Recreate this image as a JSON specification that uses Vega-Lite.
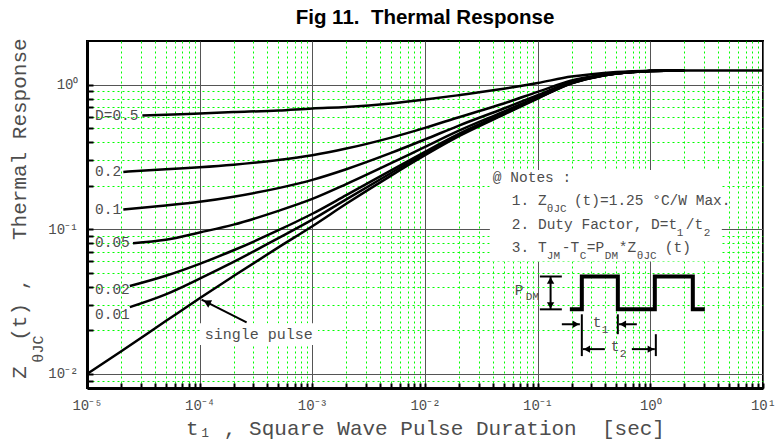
{
  "$schema": "https://vega.github.io/schema/vega-lite/v6.json",
  "width": 676,
  "height": 347,
  "autosize": "none",
  "padding": {"left": 87, "top": 41, "right": 14, "bottom": 53},
  "background": "white",
  "title": {"text": "Fig 11.\u00a0 Thermal Response", "font": "Liberation Sans", "fontSize": 20.5, "fontWeight": "bold", "color": "#000000", "offset": 9, "anchor": "middle"},
  "config": {
    "view": {"stroke": "#000000", "strokeWidth": 2},
    "text": {"font": "Liberation Mono", "color": "#4d4d4d"}
  },
  "datasets": {
    "curves": [
      {"D": "single", "t": 0.00001, "z": 0.0100}, {"D": "single", "t": 0.00002, "z": 0.0143}, {"D": "single", "t": 0.00005, "z": 0.0232}, {"D": "single", "t": 0.0001, "z": 0.0334}, {"D": "single", "t": 0.0002, "z": 0.0475}, {"D": "single", "t": 0.0005, "z": 0.0750}, {"D": "single", "t": 0.001, "z": 0.105}, {"D": "single", "t": 0.002, "z": 0.150}, {"D": "single", "t": 0.005, "z": 0.235}, {"D": "single", "t": 0.01, "z": 0.325}, {"D": "single", "t": 0.02, "z": 0.44}, {"D": "single", "t": 0.05, "z": 0.62}, {"D": "single", "t": 0.1, "z": 0.80}, {"D": "single", "t": 0.2, "z": 1.02}, {"D": "single", "t": 0.3, "z": 1.11}, {"D": "single", "t": 0.5, "z": 1.19}, {"D": "single", "t": 0.7, "z": 1.22}, {"D": "single", "t": 1, "z": 1.24}, {"D": "single", "t": 2, "z": 1.25}, {"D": "single", "t": 10, "z": 1.25},
      {"D": "0.01", "t": 0.000024, "z": 0.029}, {"D": "0.01", "t": 0.00005, "z": 0.0355}, {"D": "0.01", "t": 0.0001, "z": 0.0456}, {"D": "0.01", "t": 0.0002, "z": 0.0595}, {"D": "0.01", "t": 0.0005, "z": 0.0868}, {"D": "0.01", "t": 0.001, "z": 0.1165}, {"D": "0.01", "t": 0.002, "z": 0.161}, {"D": "0.01", "t": 0.005, "z": 0.245}, {"D": "0.01", "t": 0.01, "z": 0.334}, {"D": "0.01", "t": 0.02, "z": 0.448}, {"D": "0.01", "t": 0.05, "z": 0.626}, {"D": "0.01", "t": 0.1, "z": 0.805}, {"D": "0.01", "t": 0.2, "z": 1.022}, {"D": "0.01", "t": 0.3, "z": 1.111}, {"D": "0.01", "t": 0.5, "z": 1.19}, {"D": "0.01", "t": 0.7, "z": 1.22}, {"D": "0.01", "t": 1, "z": 1.24}, {"D": "0.01", "t": 2, "z": 1.25},
      {"D": "0.02", "t": 0.000024, "z": 0.0405}, {"D": "0.02", "t": 0.00005, "z": 0.0477}, {"D": "0.02", "t": 0.0001, "z": 0.0577}, {"D": "0.02", "t": 0.0002, "z": 0.0716}, {"D": "0.02", "t": 0.0005, "z": 0.0985}, {"D": "0.02", "t": 0.001, "z": 0.128}, {"D": "0.02", "t": 0.002, "z": 0.172}, {"D": "0.02", "t": 0.005, "z": 0.255}, {"D": "0.02", "t": 0.01, "z": 0.343}, {"D": "0.02", "t": 0.02, "z": 0.456}, {"D": "0.02", "t": 0.05, "z": 0.633}, {"D": "0.02", "t": 0.1, "z": 0.809}, {"D": "0.02", "t": 0.2, "z": 1.025}, {"D": "0.02", "t": 0.3, "z": 1.113}, {"D": "0.02", "t": 0.5, "z": 1.191}, {"D": "0.02", "t": 0.7, "z": 1.22}, {"D": "0.02", "t": 1, "z": 1.24}, {"D": "0.02", "t": 2, "z": 1.25},
      {"D": "0.05", "t": 0.0000256, "z": 0.080}, {"D": "0.05", "t": 0.00005, "z": 0.0845}, {"D": "0.05", "t": 0.0001, "z": 0.095}, {"D": "0.05", "t": 0.0002, "z": 0.1076}, {"D": "0.05", "t": 0.0005, "z": 0.134}, {"D": "0.05", "t": 0.001, "z": 0.162}, {"D": "0.05", "t": 0.002, "z": 0.205}, {"D": "0.05", "t": 0.005, "z": 0.286}, {"D": "0.05", "t": 0.01, "z": 0.371}, {"D": "0.05", "t": 0.02, "z": 0.48}, {"D": "0.05", "t": 0.05, "z": 0.651}, {"D": "0.05", "t": 0.1, "z": 0.823}, {"D": "0.05", "t": 0.2, "z": 1.032}, {"D": "0.05", "t": 0.3, "z": 1.117}, {"D": "0.05", "t": 0.5, "z": 1.193}, {"D": "0.05", "t": 0.7, "z": 1.22}, {"D": "0.05", "t": 1, "z": 1.24}, {"D": "0.05", "t": 2, "z": 1.25},
      {"D": "0.1", "t": 0.000021, "z": 0.137}, {"D": "0.1", "t": 0.00005, "z": 0.146}, {"D": "0.1", "t": 0.0001, "z": 0.155}, {"D": "0.1", "t": 0.0002, "z": 0.168}, {"D": "0.1", "t": 0.0005, "z": 0.1925}, {"D": "0.1", "t": 0.001, "z": 0.2195}, {"D": "0.1", "t": 0.002, "z": 0.26}, {"D": "0.1", "t": 0.005, "z": 0.337}, {"D": "0.1", "t": 0.01, "z": 0.4175}, {"D": "0.1", "t": 0.02, "z": 0.521}, {"D": "0.1", "t": 0.05, "z": 0.683}, {"D": "0.1", "t": 0.1, "z": 0.845}, {"D": "0.1", "t": 0.2, "z": 1.043}, {"D": "0.1", "t": 0.3, "z": 1.124}, {"D": "0.1", "t": 0.5, "z": 1.196}, {"D": "0.1", "t": 0.7, "z": 1.223}, {"D": "0.1", "t": 1, "z": 1.241}, {"D": "0.1", "t": 2, "z": 1.25},
      {"D": "0.2", "t": 0.000021, "z": 0.249}, {"D": "0.2", "t": 0.00005, "z": 0.26}, {"D": "0.2", "t": 0.0001, "z": 0.268}, {"D": "0.2", "t": 0.0002, "z": 0.279}, {"D": "0.2", "t": 0.0005, "z": 0.301}, {"D": "0.2", "t": 0.001, "z": 0.325}, {"D": "0.2", "t": 0.002, "z": 0.361}, {"D": "0.2", "t": 0.005, "z": 0.43}, {"D": "0.2", "t": 0.01, "z": 0.502}, {"D": "0.2", "t": 0.02, "z": 0.595}, {"D": "0.2", "t": 0.05, "z": 0.74}, {"D": "0.2", "t": 0.1, "z": 0.89}, {"D": "0.2", "t": 0.2, "z": 1.066}, {"D": "0.2", "t": 0.3, "z": 1.138}, {"D": "0.2", "t": 0.5, "z": 1.202}, {"D": "0.2", "t": 0.7, "z": 1.226}, {"D": "0.2", "t": 1, "z": 1.242}, {"D": "0.2", "t": 2, "z": 1.25},
      {"D": "0.5", "t": 0.000031, "z": 0.612}, {"D": "0.5", "t": 0.00005, "z": 0.618}, {"D": "0.5", "t": 0.0001, "z": 0.632}, {"D": "0.5", "t": 0.0002, "z": 0.645}, {"D": "0.5", "t": 0.0005, "z": 0.662}, {"D": "0.5", "t": 0.001, "z": 0.684}, {"D": "0.5", "t": 0.002, "z": 0.70}, {"D": "0.5", "t": 0.005, "z": 0.74}, {"D": "0.5", "t": 0.01, "z": 0.787}, {"D": "0.5", "t": 0.02, "z": 0.845}, {"D": "0.5", "t": 0.05, "z": 0.935}, {"D": "0.5", "t": 0.1, "z": 1.025}, {"D": "0.5", "t": 0.2, "z": 1.135}, {"D": "0.5", "t": 0.3, "z": 1.18}, {"D": "0.5", "t": 0.5, "z": 1.22}, {"D": "0.5", "t": 0.7, "z": 1.235}, {"D": "0.5", "t": 1, "z": 1.245}, {"D": "0.5", "t": 2, "z": 1.25}
    ],
    "dlabels": [
      {"t": 0.00001178, "z": 0.61, "txt": "D=0.5"},
      {"t": 0.00001178, "z": 0.249, "txt": "0.2"},
      {"t": 0.00001178, "z": 0.136, "txt": "0.1"},
      {"t": 0.00001178, "z": 0.080, "txt": "0.05"},
      {"t": 0.00001178, "z": 0.0378, "txt": "0.02"},
      {"t": 0.00001178, "z": 0.0256, "txt": "0.01"}
    ],
    "boxes": [
      {"t": 0.03765, "t2": 4.309, "z": 0.0598, "z2": 0.2564},
      {"t": 0.0001006, "t2": 0.001121, "z": 0.01583, "z2": 0.02241}
    ],
    "segments": [
      {"t": 0.000261, "t2": 0.000104, "z": 0.0227, "z2": 0.0327},
      {"t": 0.1302, "t2": 0.1302, "z": 0.02797, "z2": 0.04716},
      {"t": 0.1046, "t2": 0.1639, "z": 0.04716, "z2": 0.04716},
      {"t": 0.1046, "t2": 0.1639, "z": 0.02797, "z2": 0.02797},
      {"t": 0.1639, "t2": 0.2368, "z": 0.02206, "z2": 0.02206},
      {"t": 0.7589, "t2": 0.5254, "z": 0.02206, "z2": 0.02206},
      {"t": 0.2466, "t2": 0.2466, "z": 0.02585, "z2": 0.01329},
      {"t": 0.5148, "t2": 0.5148, "z": 0.02585, "z2": 0.01883},
      {"t": 0.3947, "t2": 0.2519, "z": 0.01485, "z2": 0.01485},
      {"t": 0.6852, "t2": 1.096, "z": 0.01485, "z2": 0.01485},
      {"t": 1.119, "t2": 1.119, "z": 0.01883, "z2": 0.01329}
    ],
    "heads": [
      {"t": 0.1302, "z": 0.04426, "dir": "up"},
      {"t": 0.1302, "z": 0.02979, "dir": "down"},
      {"t": 0.2183, "z": 0.02206, "dir": "right"},
      {"t": 0.5702, "z": 0.02206, "dir": "left"},
      {"t": 0.2733, "z": 0.01485, "dir": "left"},
      {"t": 1.010, "z": 0.01485, "dir": "right"}
    ],
    "diaghead": [{"t": 0.000116, "z": 0.0313}],
    "wave": [
      {"i": 0, "t": 0.1931, "z": 0.02797}, {"i": 1, "t": 0.2466, "z": 0.02797}, {"i": 2, "t": 0.2466, "z": 0.04716}, {"i": 3, "t": 0.5148, "z": 0.04716}, {"i": 4, "t": 0.5148, "z": 0.02797}, {"i": 5, "t": 1.096, "z": 0.02797}, {"i": 6, "t": 1.096, "z": 0.04716}, {"i": 7, "t": 2.383, "z": 0.04716}, {"i": 8, "t": 2.383, "z": 0.02797}, {"i": 9, "t": 3.045, "z": 0.02797}
    ],
    "maintext": [
      {"t": 0.04003, "z": 0.2249, "txt": "@ Notes :"},
      {"t": 0.0590, "z": 0.1578, "txt": "1. Z"},
      {"t": 0.2096, "z": 0.1578, "txt": "(t)=1.25 °C/W Max."},
      {"t": 0.0590, "z": 0.1074, "txt": "2. Duty Factor, D=t"},
      {"t": 2.065, "z": 0.1074, "txt": "/t"},
      {"t": 0.0590, "z": 0.0743, "txt": "3. T"},
      {"t": 0.1639, "z": 0.0743, "txt": "-T"},
      {"t": 0.2733, "z": 0.0743, "txt": "=P"},
      {"t": 0.5254, "z": 0.0743, "txt": "*Z"},
      {"t": 1.345, "z": 0.0743, "txt": "(t)"},
      {"t": 0.06276, "z": 0.03737, "txt": "P"},
      {"t": 0.3089, "z": 0.02266, "txt": "t"},
      {"t": 0.4462, "z": 0.01526, "txt": "t"}
    ],
    "subtext": [
      {"t": 0.1207, "z": 0.139, "txt": "θJC"},
      {"t": 1.718, "z": 0.0946, "txt": "1"},
      {"t": 2.984, "z": 0.0946, "txt": "2"},
      {"t": 0.1207, "z": 0.0654, "txt": "JM"},
      {"t": 0.2368, "z": 0.0654, "txt": "C"},
      {"t": 0.3947, "z": 0.0654, "txt": "DM"},
      {"t": 0.7589, "z": 0.0654, "txt": "θJC"},
      {"t": 0.07857, "z": 0.03383, "txt": "DM"},
      {"t": 0.3712, "z": 0.02007, "txt": "1"},
      {"t": 0.5362, "z": 0.01373, "txt": "2"}
    ],
    "pulse": [{"t": 0.000111, "z": 0.0188, "txt": "single pulse"}],
    "ysub": [{"t": 0.000003674, "z": 0.01485, "txt": "θJC"}]
  },
  "layer": [
    {
      "data": {"name": "curves"},
      "mark": {"type": "line", "color": "#000000", "strokeWidth": 2.5, "interpolate": "monotone"},
      "encoding": {
        "x": {
          "field": "t", "type": "quantitative",
          "scale": {"type": "log", "domain": [0.00001, 10], "nice": false},
          "axis": {
            "values": [0.00001, 0.00002, 0.00003, 0.00004, 0.00005, 0.00006, 0.00007, 0.00008, 0.00009, 0.0001, 0.0002, 0.0003, 0.0004, 0.0005, 0.0006, 0.0007, 0.0008, 0.0009, 0.001, 0.002, 0.003, 0.004, 0.005, 0.006, 0.007, 0.008, 0.009, 0.01, 0.02, 0.03, 0.04, 0.05, 0.06, 0.07, 0.08, 0.09, 0.1, 0.2, 0.3, 0.4, 0.5, 0.6, 0.7, 0.8, 0.9, 1, 2, 3, 4, 5, 6, 7, 8, 9, 10],
            "labelExpr": "abs(log(datum.value)/LN10 - round(log(datum.value)/LN10)) < 0.01 ? ['10⁻⁵','10⁻⁴','10⁻³','10⁻²','10⁻¹','10⁰','10¹'][round(log(datum.value)/LN10)+5] : ''",
            "title": "t₁ , Square Wave Pulse Duration\u00a0 [sec]",
            "titleFont": "Liberation Mono", "titleFontSize": 21, "titleFontWeight": "normal", "titleColor": "#4d4d4d",
            "titleBaseline": "alphabetic", "titleY": 46,
            "labelFont": "Liberation Mono", "labelFontSize": 14, "labelColor": "#4d4d4d", "labelPadding": 15,
            "labelOverlap": false, "labelFlush": false,
            "grid": true,
            "gridColor": {"condition": {"test": "abs(log(datum.value)/LN10 - round(log(datum.value)/LN10)) < 0.01", "value": "#555555"}, "value": "#00ff00"},
            "gridDash": {"condition": {"test": "abs(log(datum.value)/LN10 - round(log(datum.value)/LN10)) < 0.01", "value": []}, "value": [2, 3]},
            "gridWidth": 1,
            "ticks": true, "tickSize": -5, "tickColor": "#000000", "tickWidth": 2,
            "domainColor": "#000000", "domainWidth": 3
          }
        },
        "y": {
          "field": "z", "type": "quantitative",
          "scale": {"type": "log", "domain": [0.008, 2], "nice": false},
          "axis": {
            "values": [0.009, 0.01, 0.02, 0.03, 0.04, 0.05, 0.06, 0.07, 0.08, 0.09, 0.1, 0.2, 0.3, 0.4, 0.5, 0.6, 0.7, 0.8, 0.9, 1],
            "labelExpr": "abs(log(datum.value)/LN10 - round(log(datum.value)/LN10)) < 0.01 ? ['10⁻²','10⁻¹','10⁰'][round(log(datum.value)/LN10)+2] : ''",
            "title": "Z\u00a0 (t) ,\u00a0\u00a0 Thermal Response",
            "titleFont": "Liberation Mono", "titleFontSize": 21, "titleFontWeight": "normal", "titleColor": "#4d4d4d",
            "titleBaseline": "alphabetic", "titleX": -62, "titleY": 167, "titleAngle": 270,
            "labelFont": "Liberation Mono", "labelFontSize": 14, "labelColor": "#4d4d4d", "labelPadding": 15,
            "labelOverlap": false, "labelFlush": false,
            "grid": true,
            "gridColor": {"condition": {"test": "abs(log(datum.value)/LN10 - round(log(datum.value)/LN10)) < 0.01", "value": "#555555"}, "value": "#00ff00"},
            "gridDash": {"condition": {"test": "abs(log(datum.value)/LN10 - round(log(datum.value)/LN10)) < 0.01", "value": []}, "value": [2, 3]},
            "gridWidth": 1,
            "ticks": true, "tickSize": -6, "tickColor": "#000000", "tickWidth": 2,
            "domainColor": "#000000", "domainWidth": 3
          }
        },
        "detail": {"field": "D", "type": "nominal"}
      }
    },
    {
      "data": {"name": "boxes"},
      "mark": {"type": "rect", "color": "white"},
      "encoding": {
        "x": {"field": "t", "type": "quantitative"},
        "x2": {"field": "t2"},
        "y": {"field": "z", "type": "quantitative"},
        "y2": {"field": "z2"}
      }
    },
    {
      "data": {"name": "dlabels"},
      "mark": {"type": "text", "align": "left", "baseline": "middle", "fontSize": 14.5},
      "encoding": {
        "x": {"field": "t", "type": "quantitative"},
        "y": {"field": "z", "type": "quantitative"},
        "text": {"field": "txt"}
      }
    },
    {
      "data": {"name": "segments"},
      "mark": {"type": "rule", "color": "#000000", "strokeWidth": 2},
      "encoding": {
        "x": {"field": "t", "type": "quantitative"},
        "x2": {"field": "t2"},
        "y": {"field": "z", "type": "quantitative"},
        "y2": {"field": "z2"}
      }
    },
    {
      "data": {"name": "heads"},
      "mark": {"type": "point", "filled": true, "color": "#000000", "size": 55, "opacity": 1},
      "encoding": {
        "x": {"field": "t", "type": "quantitative"},
        "y": {"field": "z", "type": "quantitative"},
        "shape": {"field": "dir", "type": "nominal", "scale": {"domain": ["up", "down", "left", "right"], "range": ["triangle-up", "triangle-down", "triangle-left", "triangle-right"]}, "legend": null}
      }
    },
    {
      "data": {"name": "diaghead"},
      "mark": {"type": "point", "filled": true, "color": "#000000", "size": 70, "opacity": 1, "shape": "triangle-up", "angle": 297},
      "encoding": {
        "x": {"field": "t", "type": "quantitative"},
        "y": {"field": "z", "type": "quantitative"}
      }
    },
    {
      "data": {"name": "wave"},
      "mark": {"type": "line", "color": "#000000", "strokeWidth": 4, "strokeJoin": "miter"},
      "encoding": {
        "x": {"field": "t", "type": "quantitative"},
        "y": {"field": "z", "type": "quantitative"},
        "order": {"field": "i", "type": "quantitative"}
      }
    },
    {
      "data": {"name": "maintext"},
      "mark": {"type": "text", "align": "left", "baseline": "middle", "fontSize": 14.5},
      "encoding": {
        "x": {"field": "t", "type": "quantitative"},
        "y": {"field": "z", "type": "quantitative"},
        "text": {"field": "txt"}
      }
    },
    {
      "data": {"name": "subtext"},
      "mark": {"type": "text", "align": "left", "baseline": "middle", "fontSize": 11},
      "encoding": {
        "x": {"field": "t", "type": "quantitative"},
        "y": {"field": "z", "type": "quantitative"},
        "text": {"field": "txt"}
      }
    },
    {
      "data": {"name": "pulse"},
      "mark": {"type": "text", "align": "left", "baseline": "middle", "fontSize": 15},
      "encoding": {
        "x": {"field": "t", "type": "quantitative"},
        "y": {"field": "z", "type": "quantitative"},
        "text": {"field": "txt"}
      }
    },
    {
      "data": {"name": "ysub"},
      "mark": {"type": "text", "align": "center", "baseline": "middle", "fontSize": 15, "angle": 270},
      "encoding": {
        "x": {"field": "t", "type": "quantitative"},
        "y": {"field": "z", "type": "quantitative"},
        "text": {"field": "txt"}
      }
    }
  ]
}
